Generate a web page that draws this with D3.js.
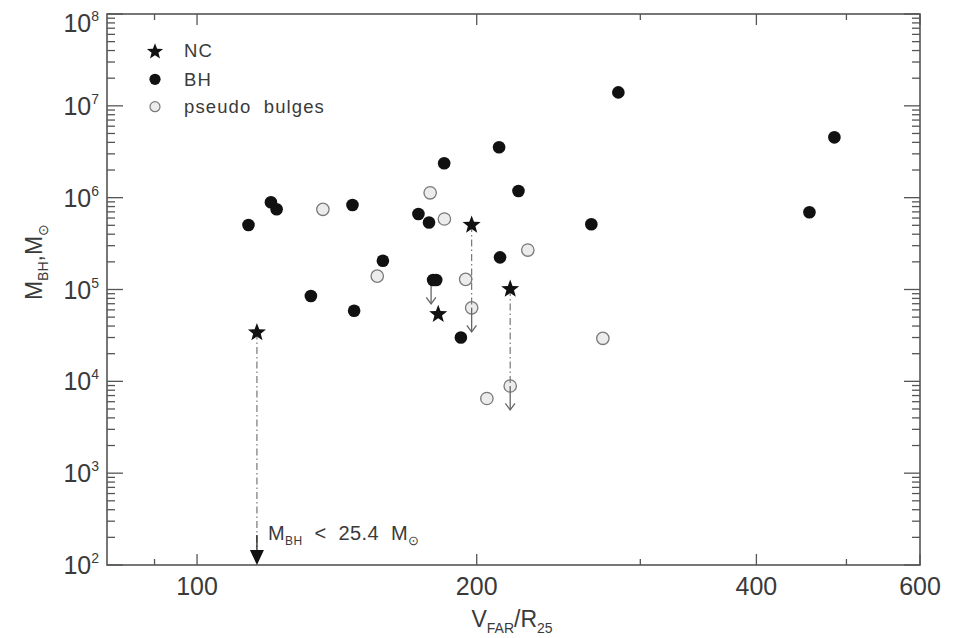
<!DOCTYPE html>
<html><head><meta charset="utf-8">
<script src="https://cdn.jsdelivr.net/npm/d3@7"></script>
<style>
html,body{margin:0;padding:0;background:#fff;}
svg{display:block;font-family:"Liberation Sans",Arial,sans-serif;}
text{white-space:pre;}
</style></head><body>
<svg id="chart" width="962" height="638"></svg>
<script>
// ---- data ----
const xMajorTicks = [100, 200, 400, 600];
const xMinorTicks = [90, 300, 500];
const yExponents = [2, 3, 4, 5, 6, 7, 8];

// BH (filled circles)
const bhV = [113.6, 120.1, 121.8, 147.0, 173.1, 177.7, 184.5, 211.4, 221.8, 211.9, 158.5, 179.5, 180.9, 132.6, 147.6, 192.3, 284.1, 485.3, 456.2, 265.7];
const bhM = [5.04e5, 8.9e5, 7.47e5, 8.32e5, 6.64e5, 5.36e5, 2.37e6, 3.54e6, 1.18e6, 2.24e5, 2.06e5, 1.27e5, 1.27e5, 8.49e4, 5.87e4, 3.0e4, 1.40e7, 4.54e6, 6.93e5, 5.13e5];
const bhUpper = [0, 0, 0, 0, 0, 0, 0, 0, 0, 0, 0, 1, 0, 0, 0, 0, 0, 0, 0, 0];

// pseudo bulges (open circles)
const pbV = [136.6, 178.2, 184.6, 227.0, 156.3, 194.6, 197.5, 273.4, 217.3, 205.1];
const pbM = [7.47e5, 1.13e6, 5.86e5, 2.69e5, 1.40e5, 1.29e5, 6.32e4, 2.94e4, 8.9e3, 6.5e3];
const pbUpper = [0, 0, 0, 0, 0, 0, 1, 0, 1, 0];

// NC (stars) and the lower ends of their dash-dot lines
const ncV = [116.0, 197.5, 217.3, 181.8];
const ncM = [3.40e4, 5.04e5, 1.01e5, 5.38e4];
const ncLower = [25.4, 6.32e4, 8.9e3, null];

const legendLabels = ["NC", "BH", "pseudo  bulges"];

// ---- drawing ----
const svg = d3.select("#chart");
const x = d3.scaleLog().domain([80, 600]).range([107, 920]);
const y = d3.scaleLog().domain([1e2, 1e8]).range([565, 14]);
const [x0, x1] = x.range();
const [y0, y1] = y.range();
const axisCol = "#555", textCol = "#3a3a3a";

// minor y ticks
const yMinor = [];
yExponents.slice(0, -1).forEach(e => { for (let k = 2; k <= 9; k++) yMinor.push(k * Math.pow(10, e)); });
const yMajor = yExponents.map(e => Math.pow(10, e));

const g = svg.append("g");
function tickY(vals, len) {
  vals.forEach(v => {
    g.append("line").attr("x1", x0).attr("x2", x0 + len).attr("y1", y(v)).attr("y2", y(v)).attr("stroke", axisCol).attr("stroke-width", 1.3);
    g.append("line").attr("x1", x1).attr("x2", x1 - len).attr("y1", y(v)).attr("y2", y(v)).attr("stroke", axisCol).attr("stroke-width", 1.3);
  });
}
tickY(yMinor, 8);
tickY(yMajor, 16);
function tickX(vals, len) {
  vals.forEach(v => {
    g.append("line").attr("x1", x(v)).attr("x2", x(v)).attr("y1", y0).attr("y2", y0 - len).attr("stroke", axisCol).attr("stroke-width", 1.3);
    g.append("line").attr("x1", x(v)).attr("x2", x(v)).attr("y1", y1).attr("y2", y1 + len).attr("stroke", axisCol).attr("stroke-width", 1.3);
  });
}
tickX(xMinorTicks, 6);
tickX(xMajorTicks, 11);
g.append("rect").attr("x", x0).attr("y", y1).attr("width", x1 - x0).attr("height", y0 - y1)
  .attr("fill", "none").attr("stroke", axisCol).attr("stroke-width", 1.6);

// y tick labels
yExponents.forEach(e => {
  const ty = Math.max(y(Math.pow(10, e)) + 9, y1 + 18);
  const t = svg.append("text").attr("x", 99).attr("y", ty).attr("text-anchor", "end")
    .attr("fill", textCol).attr("font-size", 25);
  t.append("tspan").text("10");
  t.append("tspan").attr("font-size", 14).attr("dy", -11).text(String(e));
});
// x tick labels
xMajorTicks.forEach(v => {
  svg.append("text").attr("x", x(v)).attr("y", 595).attr("text-anchor", "middle")
    .attr("fill", textCol).attr("font-size", 25).text(String(v));
});

// axis titles
const xt = svg.append("text").attr("x", 512).attr("y", 627).attr("text-anchor", "middle")
  .attr("fill", textCol).attr("font-size", 23);
xt.append("tspan").text("V");
xt.append("tspan").attr("font-size", 14).attr("dy", 6).text("FAR");
xt.append("tspan").attr("dy", -6).text("/R");
xt.append("tspan").attr("font-size", 14).attr("dy", 6).text("25");

const yt = svg.append("text").attr("transform", "translate(42,262) rotate(-90)").attr("text-anchor", "middle")
  .attr("fill", textCol).attr("font-size", 23);
yt.append("tspan").text("M");
yt.append("tspan").attr("font-size", 14).attr("dy", 6).text("BH");
yt.append("tspan").attr("dy", -6).text(",M");
yt.append("tspan").attr("font-size", 14).attr("dy", 6).text("\u2299");

// star path
function starPath(cx, cy, R) {
  const r = R * 0.42;
  const pts = [];
  for (let i = 0; i < 10; i++) {
    const a = -Math.PI / 2 + i * Math.PI / 5;
    const rr = i % 2 === 0 ? R : r;
    pts.push([cx + rr * Math.cos(a), cy + rr * Math.sin(a)]);
  }
  return "M" + pts.map(p => p[0].toFixed(2) + "," + p[1].toFixed(2)).join("L") + "Z";
}

const layer = svg.append("g");
// pseudo bulges
layer.selectAll("circle.pb").data(pbV.map((v, i) => ({ v, m: pbM[i] }))).join("circle")
  .attr("class", "pb").attr("cx", d => x(d.v)).attr("cy", d => y(d.m)).attr("r", 6.2)
  .attr("fill", "#ececec").attr("stroke", "#7a7a7a").attr("stroke-width", 1.3);

// dash-dot lines from NC stars
const yMin = y.domain()[0];
ncV.forEach((v, i) => {
  const lo = ncLower[i];
  if (lo == null) return;
  const below = lo < yMin;
  const yEnd = below ? y(yMin) - 15 : y(lo);
  layer.append("line").attr("x1", x(v)).attr("x2", x(v)).attr("y1", y(ncM[i])).attr("y2", yEnd)
    .attr("stroke", "#777").attr("stroke-width", 1.2).attr("stroke-dasharray", "7,3,1.5,3");
  if (below) {
    const cx = x(v), ty = y(yMin);
    layer.append("line").attr("x1", cx).attr("x2", cx).attr("y1", ty - 30).attr("y2", ty - 14)
      .attr("stroke", "#222").attr("stroke-width", 1.3);
    layer.append("path").attr("d", `M${cx - 7},${ty - 15}L${cx + 7},${ty - 15}L${cx},${ty}Z`).attr("fill", "#111");
  }
});

// upper-limit arrows
function limitArrow(cx, cy) {
  const L = 24;
  layer.append("line").attr("x1", cx).attr("x2", cx).attr("y1", cy).attr("y2", cy + L)
    .attr("stroke", "#666").attr("stroke-width", 1.3);
  layer.append("path").attr("d", `M${cx - 4.8},${cy + L - 6.5}L${cx},${cy + L}L${cx + 4.8},${cy + L - 6.5}`)
    .attr("fill", "none").attr("stroke", "#666").attr("stroke-width", 1.3);
}
pbV.forEach((v, i) => { if (pbUpper[i]) limitArrow(x(v), y(pbM[i])); });
bhV.forEach((v, i) => { if (bhUpper[i]) limitArrow(x(v) - 2, y(bhM[i])); });

// BH dots
layer.selectAll("circle.bh").data(bhV.map((v, i) => ({ v, m: bhM[i] }))).join("circle")
  .attr("class", "bh").attr("cx", d => x(d.v)).attr("cy", d => y(d.m)).attr("r", 6.3).attr("fill", "#111");

// NC stars
layer.selectAll("path.nc").data(ncV.map((v, i) => ({ v, m: ncM[i] }))).join("path")
  .attr("class", "nc").attr("d", d => starPath(x(d.v), y(d.m), 9.5)).attr("fill", "#111");

// annotation for the upper limit
const at = svg.append("text").attr("x", 268).attr("y", 540).attr("fill", textCol).attr("font-size", 20).attr("letter-spacing", 0.4);
at.append("tspan").text("M");
at.append("tspan").attr("font-size", 12).attr("dy", 5).text("BH");
at.append("tspan").attr("dy", -5).text("  <  " + ncLower[0] + "  M");
at.append("tspan").attr("font-size", 13).attr("dy", 5).text("\u2299");

// legend
const lg = svg.append("g");
lg.append("path").attr("d", starPath(155, 51.7, 8.5)).attr("fill", "#111");
lg.append("circle").attr("cx", 155).attr("cy", 79.3).attr("r", 5.6).attr("fill", "#111");
lg.append("circle").attr("cx", 155).attr("cy", 106.7).attr("r", 5).attr("fill", "#ececec").attr("stroke", "#7a7a7a").attr("stroke-width", 1.2);
[57, 85.5, 112.5].forEach((by, i) => {
  lg.append("text").attr("x", 184).attr("y", by).attr("fill", textCol).attr("font-size", 18.5)
    .attr("letter-spacing", 1.1).text(legendLabels[i]);
});
</script>
</body></html>
